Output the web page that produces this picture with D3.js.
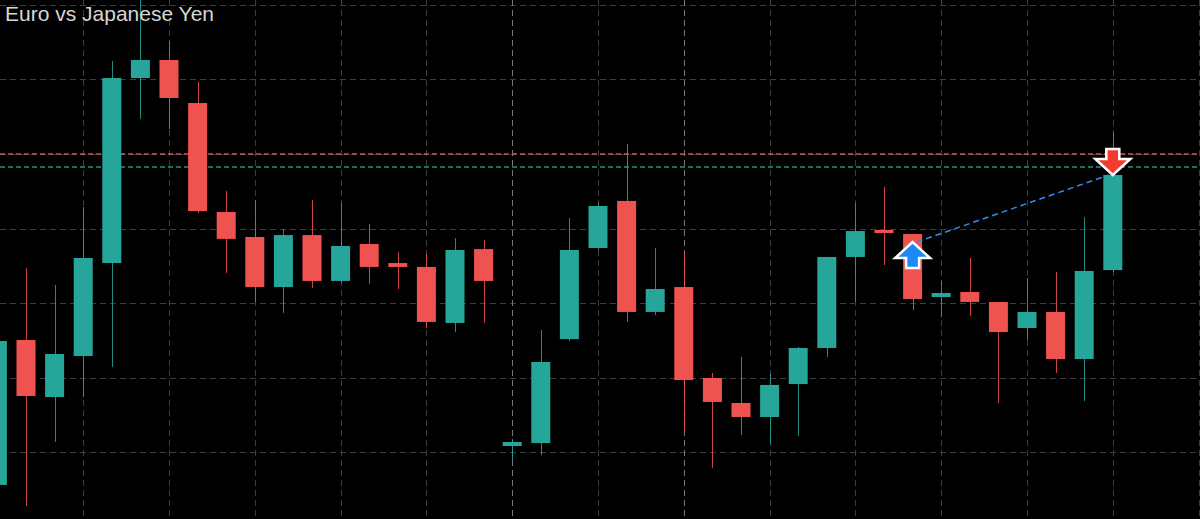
<!DOCTYPE html>
<html><head><meta charset="utf-8">
<script src="https://cdn.jsdelivr.net/npm/d3@7"></script>
<style>html,body{margin:0;padding:0;background:#000;overflow:hidden}</style>
</head><body>
<svg id="chart" width="1200" height="519"></svg>
<script>
const title = "Euro vs Japanese Yen";
const candleIndex = [-1,0,1,2,3,4,5,6,7,8,9,10,11,12,13,14,15,16,17,18,19,20,21,22,23,24,25,26,27,28,29,30,31,32,33,34,35,36,37,38];
const openVals  = [160.279,161.252,160.869,161.144,161.768,163.010,163.131,162.842,162.111,161.943,161.607,161.956,161.648,161.896,161.768,161.742,161.366,161.862,160.540,160.560,161.258,161.869,162.185,161.440,161.607,160.997,160.829,160.735,160.956,161.198,161.809,161.990,161.963,161.540,161.574,161.507,161.332,161.440,161.124,161.721];
const highVals  = [161.285,161.735,161.621,162.144,163.124,163.547,163.258,162.983,162.252,162.191,161.997,162.191,162.171,162.030,161.842,161.829,161.936,161.923,160.587,161.319,162.070,162.171,162.567,161.869,161.836,161.030,161.138,161.024,161.205,161.809,162.171,162.279,161.963,161.648,161.802,161.507,161.668,161.708,162.077,162.648];
const lowVals   = [160.211,160.138,160.567,160.869,161.070,162.735,162.668,162.104,161.701,161.507,161.433,161.601,161.634,161.628,161.594,161.332,161.305,161.366,160.446,160.480,161.245,161.856,161.373,161.419,160.634,160.393,160.614,160.554,160.607,161.138,161.507,161.755,161.453,161.406,161.413,160.829,161.252,161.030,160.842,161.708];
const closeVals = [161.245,160.876,161.158,161.802,163.010,163.131,162.876,162.117,161.930,161.607,161.956,161.648,161.883,161.742,161.742,161.373,161.856,161.648,160.567,161.104,161.856,162.151,161.440,161.594,160.983,160.836,160.735,160.950,161.198,161.809,161.983,161.970,161.527,161.567,161.507,161.305,161.440,161.124,161.715,162.359];
const gridPrices = [160.5,161.0,161.5,162.0,162.5,163.0,163.5];
const gridIndex = [2,5,8,11,14,17,20,23,26,29,32,35,38,41];
const sessionIndex = [17,23];
const priceLines = [162.500, 162.413];
const signalIndex = [31, 38];
const signalPrice = [161.909, 162.359];
const signalType = ["buy","sell"];

const W = 1200, H = 519;
const UP = "#26a69a", DOWN = "#ef5350";
const svg = d3.select("#chart");
svg.append("rect").attr("width",W).attr("height",H).attr("fill","#000");

const x = d3.scaleLinear().domain([0,38]).range([26,1112.8]);
const y = d3.scaleLinear().domain([160.5,163.5]).range([452,5]);
const bodyW = 19;

// grid
const g = svg.append("g");
g.selectAll("line.h").data(gridPrices).join("line").attr("class","h")
  .attr("x1",0).attr("x2",W).attr("y1",d=>Math.round(y(d))+0.5).attr("y2",d=>Math.round(y(d))+0.5)
  .attr("stroke","#3d3d3d").attr("stroke-width",1).attr("stroke-dasharray","6,4");
g.selectAll("line.v").data(gridIndex).join("line").attr("class","v")
  .attr("y1",0).attr("y2",H).attr("x1",d=>Math.round(x(d))+0.5).attr("x2",d=>Math.round(x(d))+0.5)
  .attr("stroke",d=>sessionIndex.includes(d)?"#777":"#3d3d3d").attr("stroke-width",1).attr("stroke-dasharray","6,4");

// price lines
const plColors = ["#d9625c","#2ea396"];
svg.selectAll("line.pl").data(priceLines).join("line").attr("class","pl")
  .attr("x1",0).attr("x2",W).attr("y1",d=>y(d)).attr("y2",d=>y(d))
  .attr("stroke",(d,i)=>plColors[i]).attr("stroke-width",1.5).attr("stroke-dasharray","5,3").attr("opacity",0.9);

// candles
const data = candleIndex.map((k,i)=>({k,o:openVals[i],h:highVals[i],l:lowVals[i],c:closeVals[i]}));
const cg = svg.append("g");
cg.selectAll("line.wick").data(data).join("line").attr("class","wick")
  .attr("x1",d=>Math.round(x(d.k))+0.5).attr("x2",d=>Math.round(x(d.k))+0.5)
  .attr("y1",d=>y(d.h)).attr("y2",d=>y(d.l))
  .attr("stroke",d=>d.c>=d.o?UP:DOWN).attr("stroke-width",1).attr("opacity",0.85);
cg.selectAll("rect.body").data(data).join("rect").attr("class","body")
  .attr("x",d=>x(d.k)-bodyW/2).attr("width",bodyW)
  .attr("y",d=>y(Math.max(d.o,d.c)))
  .attr("height",d=>Math.max(3,Math.abs(y(d.o)-y(d.c))))
  .attr("fill",d=>d.c>=d.o?UP:DOWN);

// signal connector
svg.append("line")
  .attr("x1",x(signalIndex[0])+4).attr("y1",y(signalPrice[0]))
  .attr("x2",x(signalIndex[1])-4).attr("y2",y(signalPrice[1]))
  .attr("stroke","#2f8ff0").attr("stroke-width",1.5).attr("stroke-dasharray","6,4");

// arrows
function arrowPath(cx, ty, dir){
  const headH = 16, stemH = 10, hw = 17.5, sw = 6.5;
  const s = -dir;
  const pts = [[cx,ty],[cx+hw,ty+s*headH],[cx+sw,ty+s*headH],[cx+sw,ty+s*(headH+stemH)],
               [cx-sw,ty+s*(headH+stemH)],[cx-sw,ty+s*headH],[cx-hw,ty+s*headH]];
  return "M"+pts.map(p=>p.join(",")).join("L")+"Z";
}
signalIndex.forEach((k,i)=>{
  const buy = signalType[i]==="buy";
  svg.append("path").attr("d",arrowPath(x(k), y(signalPrice[i]), buy?-1:1))
    .attr("fill",buy?"#1e88f5":"#f23c2e").attr("stroke","#fff").attr("stroke-width",2.5)
    .attr("stroke-linejoin","miter");
});

// title
svg.append("text").attr("x",5).attr("y",20.5).text(title)
  .attr("fill","#d6d6d6").attr("font-family","'Liberation Sans', Arial, sans-serif").attr("font-size",21);
</script>
</body></html>
